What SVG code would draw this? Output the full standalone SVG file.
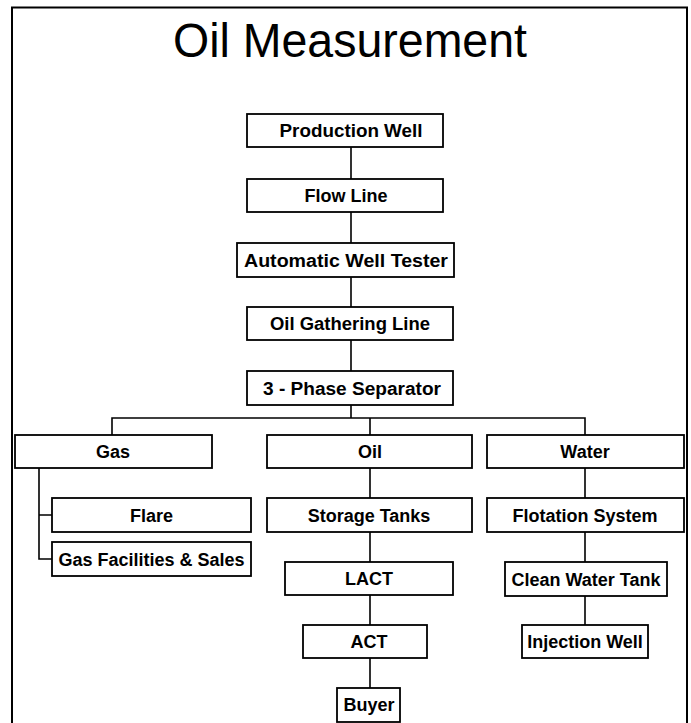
<svg xmlns="http://www.w3.org/2000/svg" width="691" height="723" viewBox="0 0 691 723">
<style>
.box{fill:#fff;stroke:#000;stroke-width:1.8}
.lbl{font-family:"Liberation Sans",Arial,sans-serif;font-weight:bold;font-size:18px;text-anchor:middle;fill:#000}
.ttl{font-family:"Liberation Sans",Arial,sans-serif;font-size:49px;text-anchor:middle;fill:#000}
.con{fill:none;stroke:#000;stroke-width:1.6}
</style>
<rect width="691" height="723" fill="#fff"/>
<path d="M12,730 V7.5 H687 V730" fill="none" stroke="#000" stroke-width="2"/>
<text class="ttl" x="350" y="57" textLength="354" lengthAdjust="spacingAndGlyphs">Oil Measurement</text>
<g id="connectors" class="con">
<path d="M351,147 V179 M351,212 V243 M351,277 V307 M351,340 V371 M351,405 V418"/>
<path d="M112,435 V418 H585 V435 M370,418 V435"/>
<path d="M370,468 V498 M370,532 V562 M370,595 V625 M370,658 V688"/>
<path d="M585,468 V498 M585,532 V562 M585,596 V625"/>
<path d="M39,468 V559 H52 M39,515 H52"/>
</g>
<g id="production-well"><rect class="box" x="247" y="114" width="196" height="33"/><text class="lbl" x="351" y="137" textLength="143" lengthAdjust="spacingAndGlyphs">Production Well</text></g>
<g id="flow-line"><rect class="box" x="247" y="179" width="196" height="33"/><text class="lbl" x="346" y="202">Flow Line</text></g>
<g id="automatic-well-tester"><rect class="box" x="237" y="243" width="217" height="34"/><text class="lbl" x="346" y="266.5" textLength="204" lengthAdjust="spacingAndGlyphs">Automatic Well Tester</text></g>
<g id="oil-gathering-line"><rect class="box" x="247" y="307" width="206" height="33"/><text class="lbl" x="350" y="330" textLength="160" lengthAdjust="spacingAndGlyphs">Oil Gathering Line</text></g>
<g id="separator"><rect class="box" x="247" y="371" width="206" height="34"/><text class="lbl" x="352" y="394.5" textLength="178" lengthAdjust="spacingAndGlyphs">3 - Phase Separator</text></g>
<g id="gas"><rect class="box" x="15" y="435" width="197" height="33"/><text class="lbl" x="113" y="458">Gas</text></g>
<g id="oil"><rect class="box" x="267" y="435" width="205" height="33"/><text class="lbl" x="370" y="458">Oil</text></g>
<g id="water"><rect class="box" x="487" y="435" width="197" height="33"/><text class="lbl" x="585" y="458">Water</text></g>
<g id="flare"><rect class="box" x="52" y="498" width="199" height="34"/><text class="lbl" x="151.5" y="521.5">Flare</text></g>
<g id="gas-facilities"><rect class="box" x="52" y="542" width="199" height="34"/><text class="lbl" x="151.5" y="565.5">Gas Facilities &amp; Sales</text></g>
<g id="storage-tanks"><rect class="box" x="267" y="498" width="205" height="34"/><text class="lbl" x="369" y="521.5">Storage Tanks</text></g>
<g id="flotation-system"><rect class="box" x="487" y="498" width="197" height="34"/><text class="lbl" x="585" y="521.5">Flotation System</text></g>
<g id="lact"><rect class="box" x="285" y="562" width="168" height="33"/><text class="lbl" x="369" y="585">LACT</text></g>
<g id="clean-water-tank"><rect class="box" x="505" y="562" width="162" height="34"/><text class="lbl" x="586" y="585.5">Clean Water Tank</text></g>
<g id="act"><rect class="box" x="303" y="625" width="124" height="33"/><text class="lbl" x="369" y="648">ACT</text></g>
<g id="injection-well"><rect class="box" x="522" y="625" width="126" height="33"/><text class="lbl" x="585" y="648">Injection Well</text></g>
<g id="buyer"><rect class="box" x="337" y="688" width="63" height="34"/><text class="lbl" x="369" y="711">Buyer</text></g>
</svg>
